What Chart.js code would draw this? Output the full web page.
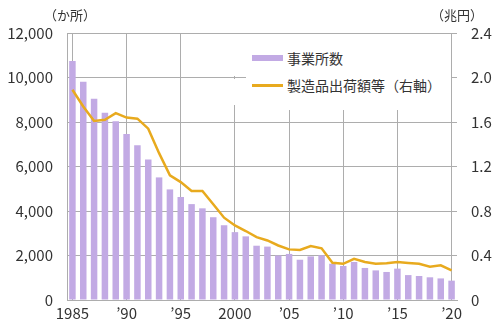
<!DOCTYPE html>
<html>
<head>
<meta charset="utf-8">
<script src="https://cdn.jsdelivr.net/npm/chart.js@4"></script>
<style>
  body { margin: 0; background: #fff; }
  #wrap { position: relative; width: 500px; height: 327px; font-family: "Noto Sans CJK JP", sans-serif; color: #333; }
  .unit { position: absolute; font-size: 13px; top: 5px; }
  .mask { position: absolute; background: #fff; }
  #legend { position: absolute; left: 246px; top: 34px; width: 205px; height: 76px; background: #fff; font-size: 14px; }
  .row { position: absolute; left: 6px; display: flex; align-items: center; }
  .sw { width: 31px; margin-right: 4px; }
</style>
</head>
<body>
<div id="wrap">
  <canvas id="myChart" width="500" height="327"></canvas>
  <div class="unit" style="left:44px">（か所）</div>
  <div class="unit" style="left:431px">（兆円）</div>
  <div class="mask" style="left:233px; top:34px; width:6px; height:42px"></div>
  <div class="mask" style="left:233px; top:79px; width:6px; height:26px"></div>
  <div id="legend">
    <div class="row" style="top:14px"><span class="sw" style="height:6px; background:#c2aae4"></span>事業所数</div>
    <div class="row" style="top:41px"><span class="sw" style="height:3px; background:#e8aa1e"></span>製造品出荷額等（右軸）</div>
  </div>
</div>
<script>
'use strict';

// Data

let years = ['1985','1986','1987','1988','1989','1990','1991','1992','1993','1994',
  '1995','1996','1997','1998','1999','2000','2001','2002','2003','2004',
  '2005','2006','2007','2008','2009','2010','2011','2012','2013','2014',
  '2015','2016','2017','2018','2019','2020'];

let yearLabels = ['1985', '\u201990', '\u201995', '2000', '\u201905', '\u201910', '\u201915', '\u201920'];

let establishments = [10740, 9810, 9050, 8420, 8030, 7460, 6950, 6320, 5510, 4970,
  4630, 4310, 4120, 3720, 3360, 3050, 2860, 2440, 2400, 2000,
  2070, 1810, 1960, 2010, 1630, 1530, 1710, 1440, 1330, 1260,
  1410, 1120, 1080, 1020, 970, 870];

let shipments = [1.89, 1.74, 1.61, 1.62, 1.68, 1.64, 1.63, 1.54, 1.32, 1.12,
  1.06, 0.98, 0.98, 0.86, 0.74, 0.67, 0.62, 0.565, 0.535, 0.49,
  0.455, 0.45, 0.485, 0.465, 0.335, 0.325, 0.37, 0.342, 0.326, 0.33,
  0.342, 0.333, 0.326, 0.30, 0.312, 0.267];

let leftTicks = [0, 2000, 4000, 6000, 8000, 10000, 12000];
let rightTicks = ['0', '0.4', '0.8', '1.2', '1.6', '2.0', '2.4'];

const gridColor = '#adadad';
const tickFont = {family: '"Noto Sans CJK JP", sans-serif', size: 15};

const data = {
  labels: years,
  datasets: [{
    type: 'line',
    label: '製造品出荷額等（右軸）',
    data: shipments,
    yAxisID: 'y1',
    borderColor: '#e8aa1e',
    borderWidth: 2.5,
    pointRadius: 0,
    tension: 0,
    order: 0
  }, {
    type: 'bar',
    label: '事業所数',
    data: establishments,
    yAxisID: 'y',
    backgroundColor: '#c2aae4',
    barPercentage: 0.6,
    categoryPercentage: 1,
    order: 1
  }]
};

const config = {
  data: data,
  options: {
    responsive: false,
    animation: false,
    layout: {padding: {top: 33, left: 0, right: 0, bottom: 0}},
    plugins: {
      legend: {display: false},
      tooltip: {enabled: false}
    },
    scales: {
      x: {
        offset: true,
        grid: {
          offset: false,
          drawTicks: false,
          color: (ctx) => (ctx.index % 5 === 0 ? gridColor : 'rgba(0,0,0,0)')
        },
        border: {color: gridColor},
        ticks: {
          autoSkip: false,
          maxRotation: 0,
          padding: 4,
          color: '#333',
          font: tickFont,
          callback: (val, i) => (i % 5 === 0 ? yearLabels[i / 5] : '')
        },
        afterFit: (scale) => { scale.height = 27; }
      },
      y: {
        position: 'left',
        min: 0,
        max: 12000,
        grid: {color: gridColor, drawTicks: false},
        border: {color: gridColor},
        ticks: {
          stepSize: 2000,
          padding: 14,
          color: '#333',
          font: tickFont,
          callback: (v) => (leftTicks.includes(v) ? v.toLocaleString('en-US') : '')
        },
        afterFit: (scale) => { scale.width = 67; }
      },
      y1: {
        position: 'right',
        min: 0,
        max: 2.4,
        grid: {drawOnChartArea: false, drawTicks: false},
        border: {display: false},
        ticks: {
          stepSize: 0.4,
          padding: 14,
          color: '#333',
          font: tickFont,
          callback: (v, i) => rightTicks[i]
        },
        afterFit: (scale) => { scale.width = 43; }
      }
    }
  }
};

const myChart = new Chart(document.getElementById('myChart'), config);
</script>
</body>
</html>
